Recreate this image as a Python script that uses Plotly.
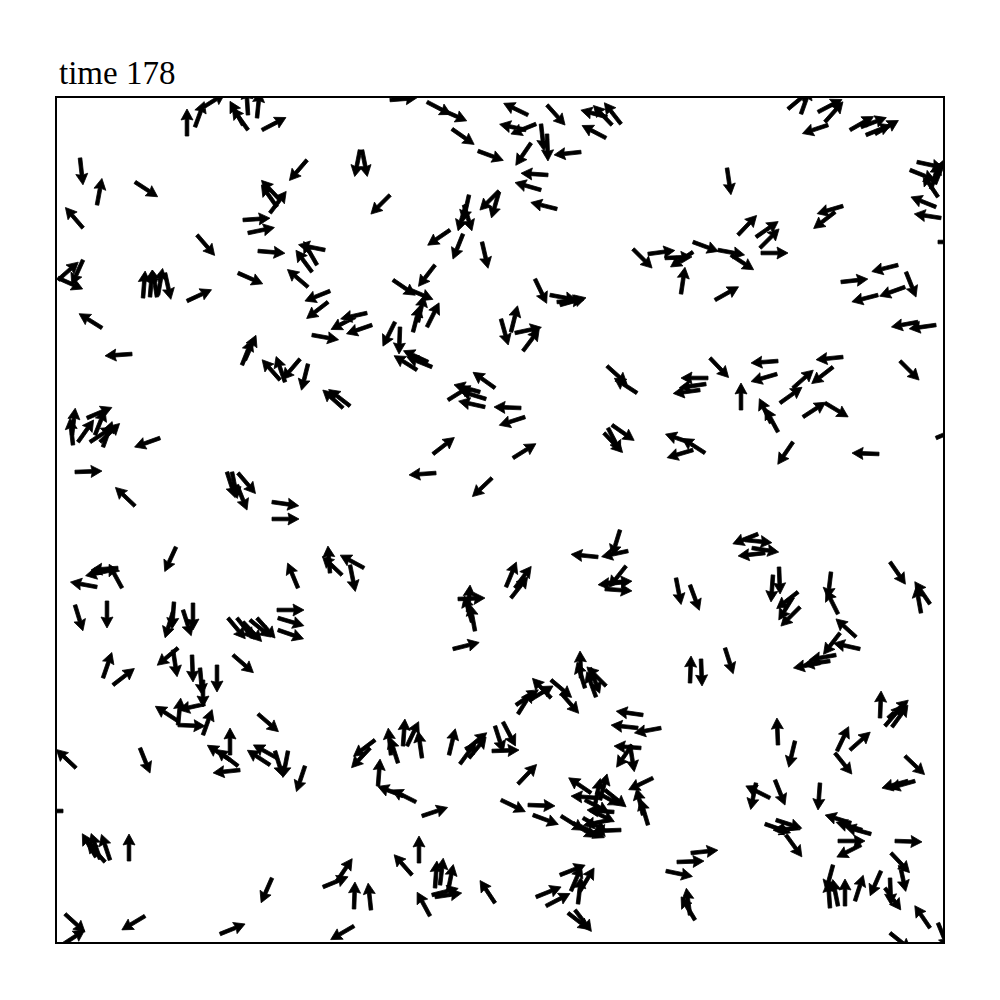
import numpy as np
import plotly.graph_objects as go

# Particle positions (box units, y measured downward from the top wall) and
# velocity directions read from the snapshot at time 178.
pos_x = [
    187,195,202,248,243,248,257,262,80,97,135,83,197,280,270,277,243,248,258,238,
    83,58,58,143,150,157,158,165,187,102,132,242,245,280,
    390,427,442,452,478,307,360,362,390,469,466,464,499,499,450,463,482,435,393,408,
    413,427,418,395,400,432,417,428,325,312,317,308,330,328,367,355,372,312,300,308,285,
    528,547,621,612,607,606,536,526,541,547,531,581,548,541,557,633,648,665,693,693,
    681,535,550,557,560,715,501,511,515,523,607,637,708,706,700,
    788,801,818,825,828,850,866,875,861,727,938,917,910,931,935,936,941,843,835,738,
    756,760,761,718,731,938,898,841,906,878,905,936,918,778,777,843,833,900,710,
    73,78,90,103,87,100,72,95,160,75,135,227,232,238,237,272,272,176,97,112,
    118,122,75,107,174,173,193,183,228,237,250,257,243,277,278,278,
    350,343,448,485,486,480,495,521,525,433,436,492,364,342,330,350,298,468,475,458,472,453,
    513,612,604,608,705,691,693,598,620,628,506,511,515,626,605,625,605,676,690,
    741,778,771,780,793,803,825,793,879,936,758,745,752,765,779,773,798,800,793,831,
    838,856,860,840,836,830,820,890,930,921,725,
    103,113,178,173,192,200,203,217,233,178,178,205,178,203,258,140,76,230,238,230,
    240,277,270,275,288,305,63,105,110,100,96,129,272,65,145,62,220,
    375,370,391,398,403,407,422,378,416,403,422,449,460,469,466,495,492,501,419,412,
    435,440,432,435,448,495,323,337,354,371,430,354,
    581,585,606,590,596,690,701,518,516,530,551,551,561,503,643,661,638,641,632,630,
    518,653,648,643,528,533,591,598,596,605,561,573,583,621,610,590,595,600,585,580,614,
    560,536,546,578,580,571,568,575,691,677,666,695,690,
    778,795,880,885,892,888,850,837,835,905,915,908,756,770,775,820,765,776,800,786,
    851,871,862,838,861,895,891,900,830,838,845,855,881,890,885,833,930,938,890,
]
pos_y = [
    136,127,108,130,125,115,118,130,158,205,182,228,235,200,213,207,220,233,251,273,
    260,278,280,298,297,297,295,273,301,328,354,365,360,380,
    100,102,110,129,151,160,150,150,195,195,205,205,191,192,230,234,242,265,280,289,
    332,327,322,322,327,367,370,362,250,272,265,287,291,302,313,317,325,335,359,364,382,
    115,105,124,125,117,138,124,130,124,134,143,152,175,190,209,249,254,258,252,242,
    294,279,295,302,305,300,319,332,333,351,366,393,378,384,390,
    109,114,112,122,125,130,135,134,127,168,197,162,170,189,184,207,218,206,212,235,
    237,248,253,250,255,242,265,282,272,295,287,325,322,361,374,357,367,361,358,
    445,442,442,447,418,442,435,435,438,472,506,472,472,473,485,502,519,547,587,570,
    568,588,605,601,602,612,603,610,618,618,620,618,622,610,618,630,
    406,408,400,407,399,392,388,408,417,454,473,478,568,575,573,565,588,612,631,599,622,649,
    458,425,433,428,453,443,450,557,530,551,587,598,588,566,583,582,589,578,585,
    410,432,423,403,388,417,403,442,454,438,534,540,548,553,567,575,592,607,597,572,
    614,637,649,633,655,661,663,562,604,613,648,
    678,685,648,650,655,668,680,665,655,721,725,704,725,735,714,748,768,755,766,760,
    770,758,765,751,751,766,811,862,860,859,857,861,878,914,916,945,934,
    740,748,755,763,746,746,758,786,802,796,816,755,764,758,750,726,751,800,863,875,
    888,885,895,897,891,903,887,881,909,910,916,926,
    678,688,686,668,697,683,659,714,705,700,698,680,693,722,715,728,728,748,745,745,
    784,778,825,815,805,815,793,798,792,790,816,823,818,830,820,810,805,800,800,826,812,
    875,897,906,904,891,891,913,910,853,862,871,920,915,
    745,741,718,726,727,718,750,751,753,756,781,781,783,798,780,783,824,820,828,835,
    823,834,830,841,845,841,853,865,908,906,906,901,871,878,888,865,928,923,933,
]
vel_x = [
    0,8,16,-20,-11,-1,2,25,3,5,23,-18,19,-17,12,-12,29,29,24,25,
    -10,27,17,2,2,-4,4,6,26,-24,-29,10,12,-15,
    25,25,25,23,27,-18,-5,5,-20,-6,-8,8,-20,-7,-22,-10,6,-17,22,24,
    7,11,5,-12,-1,-25,-24,-26,-30,-17,-12,-20,-25,-22,-27,-25,-26,28,-17,-6,-8,
    -25,18,-18,-20,-19,-23,-25,-23,3,1,-15,-28,-30,-28,-28,20,30,25,-21,27,
    4,12,27,27,25,25,7,5,28,18,20,-20,-28,-28,-23,
    12,5,23,16,-27,28,25,26,27,4,-18,23,25,9,10,-25,-26,-27,-22,19,
    23,19,29,27,23,24,-28,27,10,-27,-25,-28,-27,-27,-24,-30,-18,20,19,
    -3,17,23,9,26,18,3,10,-28,28,-20,8,5,17,10,28,29,-11,-27,-28,
    -27,-12,8,0,-2,-8,0,8,20,16,22,18,20,28,27,26,
    -22,-18,24,-27,-26,-25,-21,-27,-25,22,-28,-20,-24,-19,-2,5,-10,2,-5,27,-7,28,
    24,23,19,13,-25,-23,-27,-30,-8,-28,10,22,15,-15,29,-29,28,5,10,
    0,-13,-11,21,17,23,20,-15,-28,24,-28,30,26,-27,1,-2,-27,-20,-13,-3,
    -13,-21,-27,-17,-28,-28,-27,16,-15,-5,8,
    9,22,-18,4,1,2,0,0,22,-20,24,-27,2,9,22,10,-18,0,-21,-23,
    -28,-27,-23,8,-5,-9,-27,-18,-8,-8,-10,0,-11,21,-25,23,25,
    -25,-15,-3,-8,2,11,-4,2,-24,-21,27,6,16,18,18,8,29,25,0,-22,
    2,3,28,27,4,-18,27,17,1,-3,-13,-24,
    -1,-8,-19,10,-8,1,1,15,25,23,-17,19,20,12,-28,-27,-28,-28,-16,4,
    19,-25,-8,-6,29,27,-25,-28,26,25,24,27,25,-28,-25,25,5,6,25,25,-26,
    23,25,25,3,11,9,22,13,29,29,29,-15,-3,
    -1,-6,1,18,16,17,26,11,16,20,-32,-22,-5,-24,10,-2,26,25,-25,16,
    -26,-29,-27,28,-26,30,17,5,-2,-5,0,8,-11,1,18,-7,-15,9,15,
]
vel_y = [
    -26,-22,-10,-28,-20,-16,-20,-13,27,-27,15,-21,22,-18,-16,-17,-2,-6,2,11,
    22,12,-15,-25,-25,-25,-23,27,-12,-15,2,-25,-27,-17,
    -2,13,11,16,10,21,25,25,20,27,26,26,20,24,15,25,26,22,15,10,
    -27,-22,-22,24,27,-10,-15,-12,-6,-23,-21,-17,10,17,6,13,9,5,20,24,-23,
    -12,20,-23,-21,-5,-12,10,-5,27,28,22,3,-2,-8,-7,20,-4,-1,14,10,
    -27,25,5,-2,-7,-14,25,-20,-6,-24,18,-13,0,4,3,
    -10,-14,-12,-18,9,-16,-10,-15,-10,27,-27,5,10,-29,-25,-10,-4,8,17,-20,
    -16,-19,0,5,15,0,7,-3,25,7,9,4,5,2,7,3,14,20,20,
    -27,-24,-15,-25,-11,-17,-25,-25,10,-1,-19,25,25,20,25,4,0,24,-5,6,
    2,-22,26,26,26,26,27,25,24,20,18,20,21,0,8,9,
    -17,-16,-15,-6,-8,-7,-15,-1,8,-17,2,19,-13,-18,-26,25,-24,-26,-27,-1,-24,-7,
    -15,16,20,25,-16,-8,8,-3,26,6,-24,-28,-20,19,-2,3,2,26,27,
    -27,-24,-23,-15,-15,-15,12,22,-1,-10,11,3,4,3,25,27,21,20,21,25,
    -26,-19,-6,22,5,4,5,23,-22,-28,25,
    -26,-17,15,26,26,23,25,26,19,-13,1,6,-20,-25,19,25,-17,-25,-16,-15,
    3,-15,-15,26,26,27,0,-20,-24,-23,-17,-27,25,19,15,-15,-10,
    19,16,-29,-25,-28,-23,-28,-26,-12,-8,-9,-25,-22,-22,-15,25,-1,12,-28,-25,
    -28,-25,-7,-4,-20,-27,-11,-25,-28,-28,-24,14,
    -27,-26,-19,26,-22,-26,26,-24,-17,-14,-18,16,23,23,-4,5,-3,-2,23,25,
    -20,12,-27,-25,1,10,-17,-2,14,20,15,17,14,1,5,12,-25,-22,13,12,-2,
    -9,-10,-13,-26,-18,-21,17,17,-3,-1,6,-25,-22,
    -25,25,-25,-21,-22,-15,-23,-23,20,19,9,6,25,-12,25,27,9,8,2,22,
    -8,-8,-8,0,13,1,18,23,-28,-25,-26,-25,25,27,25,26,-22,22,12,
]

title_text = "time 178"
box_x = [57, 943]
box_y = [98, 942]

lens = {len(pos_x), len(pos_y), len(vel_x), len(vel_y)}
if len(lens) != 1:
    raise ValueError(f"length mismatch: {len(pos_x)} {len(pos_y)} {len(vel_x)} {len(vel_y)}")

# quiver glyph geometry (data units)
L = 27.0     # total arrow length (unit velocity scaled)
w = 1.8      # shaft half-width
hl = 11.0    # head length
hw = 6.0     # head half-width
ha = 10.0    # head axis length

X = np.asarray(pos_x, float)
Y = np.asarray(pos_y, float)
U = np.asarray(vel_x, float)
V = np.asarray(vel_y, float)
norm = np.hypot(U, V)
dx, dy = U / norm, V / norm
nx, ny = -dy, dx

px, py = [], []
for x0, y0, ux, uy, qx, qy in zip(X, Y, dx, dy, nx, ny):
    s1 = L - ha
    s2 = L - hl
    pts = [
        (x0 + qx * w, y0 + qy * w),
        (x0 + ux * s1 + qx * w, y0 + uy * s1 + qy * w),
        (x0 + ux * s2 + qx * hw, y0 + uy * s2 + qy * hw),
        (x0 + ux * L, y0 + uy * L),
        (x0 + ux * s2 - qx * hw, y0 + uy * s2 - qy * hw),
        (x0 + ux * s1 - qx * w, y0 + uy * s1 - qy * w),
        (x0 - qx * w, y0 - qy * w),
        (x0 + qx * w, y0 + qy * w),
    ]
    for a, b in pts:
        px.append(a)
        py.append(b)
    px.append(None)
    py.append(None)

fig = go.Figure()
fig.add_trace(go.Scatter(
    x=px, y=py, mode="lines", fill="toself",
    fillcolor="black", line=dict(color="black", width=0.8),
    hoverinfo="skip", showlegend=False,
))

axis_common = dict(
    showgrid=False, zeroline=False, showticklabels=False, ticks="",
    showline=True, mirror=True, linecolor="black", linewidth=1.5,
)
fig.update_layout(
    width=1000, height=1000, autosize=False,
    margin=dict(l=57, r=57, t=98, b=58, pad=0),
    paper_bgcolor="white", plot_bgcolor="white",
    xaxis=dict(range=box_x, **axis_common),
    yaxis=dict(range=[box_y[1], box_y[0]], **axis_common),
    annotations=[dict(
        text=title_text, xref="paper", yref="paper", x=0, y=1,
        xanchor="left", yanchor="bottom", yshift=5, showarrow=False,
        font=dict(family="Liberation Serif, Times New Roman, serif", size=33, color="black"),
    )],
)

fig.write_html("out.html")
